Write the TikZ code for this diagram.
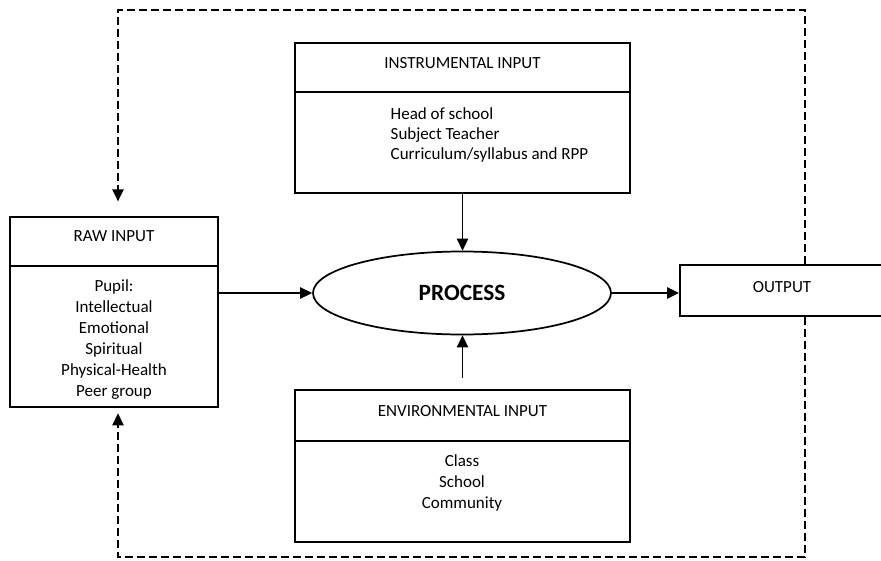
\documentclass[tikz,border=0pt]{standalone}
\usepackage{fontspec}
\setmainfont{Carlito}
\usetikzlibrary{arrows.meta, shapes, positioning, calc}
\tikzset{
        box/.style={draw, line width=1.5pt, fill=white},
        head/.style={draw, line width=1.5pt, align=center, text depth=7.5pt},
        body/.style={align=center, font=\fontsize{12.75}{15.75}\selectfont},
        line/.style={-{Triangle[length=9pt, width=8.5pt]}, line width=1.3pt},
        feedback/.style={-{Triangle[length=9pt, width=8.5pt]}, line width=1.1pt, dash pattern=on 6pt off 3pt}
    }

\begin{document}
\begin{tikzpicture}[x=0.75pt, y=-0.75pt, font=\fontsize{12.75}{15.75}\selectfont]
    \clip (0,0) rectangle (881,560);
    % corners of the feedback loop
    \coordinate (fbtop) at (805,10);
    \coordinate (fbbot) at (805,557);

    % raw input
    \node[box, minimum width=156pt, minimum height=142.5pt] (raw) at (114,312) {};
    \node[head, minimum width=156pt, minimum height=36.75pt, anchor=north] (rawhead) at (raw.north) {RAW INPUT};
    \node[body] (rawbody) at (114,340) {Pupil:\\Intellectual\\Emotional\\Spiritual\\Physical-Health\\Peer group};

    % instrumental input
    \node[box, minimum width=251.25pt, minimum height=112.5pt] (instr) at (462.5,118) {};
    \node[head, minimum width=251.25pt, minimum height=36.75pt, anchor=north] (instrhead) at (instr.north) {INSTRUMENTAL INPUT};
    \node[body, align=left, anchor=west, font=\fontsize{12.75}{15}\selectfont] (instrbody) at (386,135) {Head of school\\Subject Teacher\\Curriculum/syllabus and RPP};

    % environmental input
    \node[box, minimum width=251.25pt, minimum height=114pt] (env) at (462.5,466) {};
    \node[head, minimum width=251.25pt, minimum height=38.25pt, anchor=north] (envhead) at (env.north) {ENVIRONMENTAL INPUT};
    \node[body] (envbody) at (462,483) {Class\\School\\Community};

    % process and output
    \node[draw, ellipse, line width=1.3pt, minimum width=223.5pt, minimum height=62.25pt, font=\fontsize{17.5}{21}\selectfont\bfseries] (proc) at (462,293) {PROCESS};
    \node[head, text depth=5pt, minimum width=153pt, minimum height=38.25pt] (out) at (782,290.5) {OUTPUT};

    % main flow
    \draw[line] (raw.east |- proc.west) -- (proc.west);
    \draw[line] (proc.east) -- (proc.east -| out.west);
    \draw[line] (instr.south) -- (instr.south |- proc.north);
    \draw[line, shorten <=8pt] (env.north) -- (env.north |- proc.south);

    % feedback
    \draw[feedback, shorten >=11pt] (out.north -| fbtop) -- (fbtop) -| ([xshift=3pt]raw.north);
    \draw[feedback, shorten >=4pt] (out.south -| fbbot) -- (fbbot) -| ([xshift=3pt]raw.south);
\end{tikzpicture}
\end{document}
